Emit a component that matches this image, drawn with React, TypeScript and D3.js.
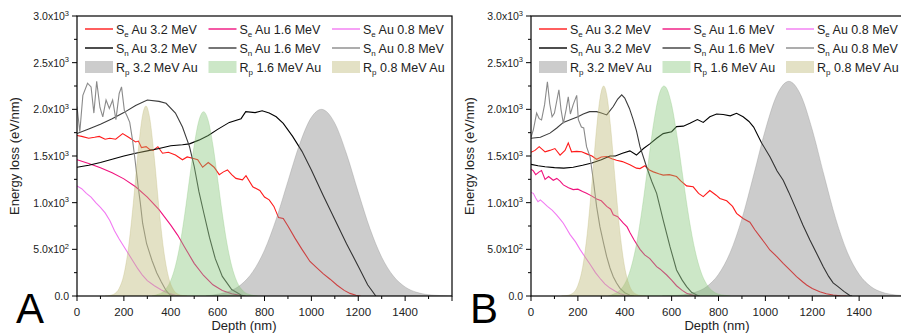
import * as d3 from "d3";

type Pt = [number, number];

// depth (nm) vs energy loss (eV/nm)

// panel A
const A_SE32: Pt[] = [[0,1720],[20,1710],[50,1690],[75,1700],[95,1710],[120,1680],[140,1690],[165,1680],[195,1740],[220,1700],[250,1650],[262,1660],[275,1590],[295,1600],[310,1570],[325,1560],[345,1600],[365,1530],[390,1540],[420,1510],[450,1460],[470,1490],[493,1475],[515,1460],[536,1380],[560,1430],[585,1380],[607,1300],[625,1330],[642,1350],[660,1300],[678,1260],[706,1245],[721,1290],[750,1170],[780,1130],[800,1060],[820,1030],[840,960],[860,840],[880,830],[900,750],[930,620],[960,500],[994,370],[1020,310],[1050,240],[1080,180],[1110,115],[1140,60],[1165,28],[1190,8],[1210,0]];
const A_SE16: Pt[] = [[0,1460],[50,1420],[100,1375],[150,1320],[200,1255],[250,1170],[300,1060],[350,925],[400,760],[430,650],[460,520],[500,350],[540,220],[580,120],[620,60],[660,25],[700,5],[720,0]];
const A_SE08: Pt[] = [[0,1180],[20,1150],[40,1100],[60,1060],[80,1000],[100,950],[120,890],[140,810],[160,700],[180,610],[200,530],[220,450],[240,370],[260,290],[280,220],[300,165],[330,110],[360,65],[390,30],[420,8],[440,0]];
const A_SN32: Pt[] = [[0,1380],[50,1400],[100,1430],[150,1465],[200,1500],[250,1530],[300,1555],[350,1580],[400,1610],[450,1620],[480,1630],[520,1670],[560,1720],[600,1785],[650,1860],[700,1900],[720,1975],[760,1965],[790,1985],[820,1960],[850,1920],[880,1850],[920,1710],[960,1550],[1000,1350],[1050,1080],[1100,820],[1150,560],[1200,320],[1240,120],[1275,0]];
const A_SN16: Pt[] = [[0,1740],[50,1790],[100,1840],[150,1900],[200,1965],[250,2040],[300,2100],[350,2085],[380,2065],[420,1960],[450,1810],[480,1600],[500,1390],[520,1120],[540,900],[565,630],[590,400],[620,210],[660,70],[700,10],[715,0]];
const A_SN08: Pt[] = [[0,2030],[12,1760],[25,2150],[45,2280],[60,2240],[72,1960],[84,2300],[98,2020],[110,1920],[124,2100],[138,2010],[152,2100],[166,1890],[180,2170],[190,2240],[202,1990],[215,1920],[225,1860],[237,1670],[248,1450],[255,1300],[262,1150],[270,1000],[280,780],[297,560],[320,380],[340,250],[360,150],[380,60],[395,15],[410,0]];
const A_RP32: Pt[] = [[550,0],[600,19],[650,51],[700,122],[750,260],[800,491],[850,825],[900,1230],[950,1628],[1000,1914],[1043,2000],[1100,1851],[1150,1523],[1200,1113],[1250,722],[1300,416],[1350,213],[1400,97],[1450,39],[1500,14],[1550,5],[1600,0]];
const A_RP16: Pt[] = [[320,0],[340,13],[370,52],[400,167],[420,322],[440,560],[460,882],[480,1255],[500,1615],[520,1878],[540,1975],[560,1878],[580,1615],[600,1255],[620,882],[640,560],[660,322],[680,167],[710,52],[740,13],[770,0]];
const A_RP08: Pt[] = [[120,0],[140,6],[160,24],[180,82],[200,230],[220,527],[240,991],[260,1531],[280,1940],[294,2036],[310,1911],[330,1478],[350,939],[370,489],[390,209],[410,73],[430,21],[450,5],[470,0]];

// panel B
const B_SE32: Pt[] = [[0,1540],[17,1560],[35,1600],[60,1545],[80,1560],[102,1580],[124,1510],[145,1560],[159,1640],[173,1545],[195,1550],[216,1545],[240,1520],[260,1500],[280,1465],[300,1490],[323,1495],[345,1470],[365,1455],[390,1440],[422,1405],[450,1370],[465,1365],[486,1395],[505,1350],[522,1330],[545,1310],[564,1295],[590,1300],[621,1280],[640,1230],[664,1180],[692,1170],[715,1100],[735,1065],[763,1130],[790,1080],[806,1045],[835,1020],[860,960],[877,886],[905,830],[934,790],[955,710],[977,636],[1000,560],[1019,493],[1050,420],[1076,350],[1100,290],[1133,207],[1160,150],[1176,118],[1200,80],[1232,46],[1260,25],[1289,10],[1320,3],[1346,0]];
const B_SE16: Pt[] = [[0,1360],[10,1340],[20,1300],[35,1330],[45,1345],[60,1250],[75,1280],[95,1240],[110,1260],[124,1230],[138,1190],[160,1160],[180,1140],[200,1145],[220,1120],[237,1100],[260,1070],[280,1040],[300,1020],[323,960],[340,930],[351,870],[370,850],[394,780],[410,740],[422,680],[440,600],[465,500],[485,440],[507,400],[536,314],[550,290],[579,225],[600,170],[621,110],[645,60],[664,30],[685,12],[707,0]];
const B_SE08: Pt[] = [[0,1110],[10,1100],[20,1050],[30,1010],[40,1030],[53,1000],[70,960],[90,920],[109,870],[125,820],[138,780],[152,720],[166,660],[190,580],[209,500],[230,420],[252,340],[275,250],[294,190],[315,130],[337,85],[360,50],[380,25],[400,10],[422,0]];
const B_SN32: Pt[] = [[0,1410],[30,1395],[60,1385],[100,1375],[140,1370],[180,1380],[220,1400],[260,1425],[300,1460],[337,1500],[360,1500],[390,1530],[422,1555],[450,1510],[480,1580],[507,1630],[536,1690],[564,1740],[600,1760],[621,1815],[650,1820],[678,1850],[710,1890],[735,1860],[763,1920],[792,1950],[820,1945],[850,1930],[877,1957],[905,1920],[930,1870],[950,1810],[984,1640],[1020,1490],[1050,1340],[1076,1240],[1100,1110],[1133,920],[1160,760],[1190,600],[1220,450],[1247,314],[1270,210],[1289,140],[1310,100],[1335,50],[1360,5],[1370,0]];
const B_SN16: Pt[] = [[0,1690],[40,1700],[81,1745],[110,1800],[138,1860],[170,1890],[200,1920],[223,1950],[250,1975],[280,1975],[300,1960],[323,1940],[351,2030],[370,2110],[387,2155],[400,2120],[420,2010],[436,1890],[450,1770],[465,1600],[493,1385],[515,1230],[536,1100],[564,814],[593,529],[621,279],[645,170],[664,100],[685,40],[707,10],[720,0]];
const B_SN08: Pt[] = [[0,1700],[10,1780],[24,1960],[35,1900],[45,1886],[58,2050],[70,2295],[80,2060],[90,1920],[100,1960],[119,2210],[128,2000],[138,1850],[150,2000],[159,2135],[168,1950],[180,2050],[195,2150],[202,1890],[215,1810],[225,1800],[237,1600],[252,1490],[266,1240],[280,957],[294,743],[310,560],[323,421],[337,300],[351,207],[365,140],[380,82],[400,35],[422,8],[440,0]];
const B_RP32: Pt[] = [[560,0],[600,4],[650,13],[700,39],[750,101],[800,232],[850,467],[900,829],[950,1296],[1000,1782],[1050,2158],[1100,2300],[1150,2158],[1200,1782],[1250,1296],[1300,829],[1350,467],[1400,232],[1450,101],[1500,39],[1550,13],[1600,4]];
const B_RP16: Pt[] = [[330,0],[350,18],[375,52],[400,131],[425,287],[450,557],[475,949],[500,1423],[525,1879],[550,2185],[567,2250],[575,2238],[600,2048],[625,1682],[650,1240],[675,820],[700,487],[725,259],[750,124],[775,53],[800,20],[825,8],[850,0]];
const B_RP08: Pt[] = [[130,0],[150,4],[175,25],[200,113],[220,305],[240,671],[260,1214],[280,1801],[295,2128],[310,2250],[325,2128],[340,1801],[360,1214],[380,671],[400,305],[420,113],[445,25],[470,4],[490,0]];

const X_TICKS = [0, 200, 400, 600, 800, 1000, 1200, 1400];
const Y_TICKS = [0, 500, 1000, 1500, 2000, 2500, 3000];
const Y_TICK_BASE = ["0.0", "5.0x10", "1.0x10", "1.5x10", "2.0x10", "2.5x10", "3.0x10"];
const Y_TICK_EXP = ["", "2", "3", "3", "3", "3", "3"];

const LINE_NAMES = ["e|Au 3.2 MeV", "e|Au 1.6 MeV", "e|Au 0.8 MeV", "n|Au 3.2 MeV", "n|Au 1.6 MeV", "n|Au 0.8 MeV"];
const LINE_COLORS = ["#ff1a1a", "#f0127e", "#f27af2", "#000000", "#3c3c3c", "#8a8a8a"];
const AREA_NAMES = ["3.2 MeV Au", "1.6 MeV Au", "0.8 MeV Au"];
const AREA_COLORS = ["#808080", "#7fc272", "#bab46e"];

const FONT = "'Liberation Sans', Arial, Helvetica, sans-serif";

type PanelProps = {
  left: number;
  letter: string;
  letterX: number;
  titleX: number;
  depthX: number;
  lines: Pt[][];
  areas: Pt[][];
};

function Panel({ left, letter, letterX, titleX, depthX, lines, areas }: PanelProps) {
  const top = 16, bottom = 296, width = 375;
  const x = d3.scaleLinear().domain([0, 1600]).range([left, left + width]);
  const y = d3.scaleLinear().domain([0, 3000]).range([bottom, top]);
  const line = d3.line<Pt>().x((d) => x(d[0])).y((d) => y(d[1]));
  const area = d3.area<Pt>().x((d) => x(d[0])).y0(y(0)).y1((d) => y(d[1])).curve(d3.curveMonotoneX);
  const clipId = "clip-" + letter;
  const minorX = d3.range(0, 1601, 100);
  const minorY = d3.range(0, 3001, 250);
  const legendX = (i: number) => left + 8 + i * 123.5;
  const legendY = [29, 48, 67];

  return (
    <g fontFamily={FONT}>
      <defs>
        <clipPath id={clipId}>
          <rect x={left} y={top} width={width} height={bottom - top} />
        </clipPath>
      </defs>
      <g clipPath={`url(#${clipId})`}>
        {lines.map((d, i) => (
          <path key={i} d={line(d) ?? ""} fill="none" stroke={LINE_COLORS[i]} strokeWidth={1.1} />
        ))}
        {areas.map((d, i) => (
          <path key={i} d={area(d) ?? ""} fill={AREA_COLORS[i]} fillOpacity={0.4} stroke={AREA_COLORS[i]} strokeOpacity={0.35} strokeWidth={0.8} />
        ))}
      </g>

      {/* frame */}
      <rect x={left} y={top} width={width} height={bottom - top} fill="none" stroke="#000" strokeWidth={1.2} />

      {/* x ticks */}
      {minorX.map((v) => (
        <line key={v} x1={x(v)} x2={x(v)} y1={bottom} y2={bottom + (v % 200 === 0 ? 5 : 3)} stroke="#000" strokeWidth={1} />
      ))}
      {X_TICKS.map((v) => (
        <text key={v} x={x(v)} y={316} fontSize={11.5} textAnchor="middle" fill="#222">{v}</text>
      ))}

      {/* y ticks */}
      {minorY.map((v) => (
        <line key={v} x1={left} x2={left - (v % 500 === 0 ? 5 : 3)} y1={y(v)} y2={y(v)} stroke="#000" strokeWidth={1} />
      ))}
      {Y_TICKS.map((v, i) => (
        <text key={v} x={left - 8} y={y(v) + 4} fontSize={10.5} textAnchor="end" fill="#222">
          {Y_TICK_BASE[i]}
          {Y_TICK_EXP[i] && <tspan dy={-4.5} fontSize={7.5}>{Y_TICK_EXP[i]}</tspan>}
        </text>
      ))}

      <text transform={`translate(${titleX},156) rotate(-90)`} fontSize={13} textAnchor="middle" dominantBaseline="middle" fill="#222">
        Energy loss (eV/nm)
      </text>
      <text x={depthX} y={330} fontSize={13} textAnchor="middle" fill="#222">Depth (nm)</text>
      <text x={letterX} y={323} fontSize={42} fill="#000">{letter}</text>

      {/* legend */}
      {LINE_NAMES.map((name, i) => {
        const col = i % 3, row = Math.floor(i / 3);
        const [sub, rest] = name.split("|");
        const lx = legendX(col), ly = legendY[row];
        return (
          <g key={name + i}>
            <line x1={lx} x2={lx + 28} y1={ly} y2={ly} stroke={LINE_COLORS[i]} strokeWidth={1.4} />
            <text x={lx + 31} y={ly + 4.5} fontSize={12.5} fill="#222" style={{ whiteSpace: "pre" }}>
              S<tspan dy={3} fontSize={8}>{sub}</tspan><tspan dy={-3}>{" " + rest}</tspan>
            </text>
          </g>
        );
      })}
      {AREA_NAMES.map((name, i) => {
        const lx = legendX(i), ly = legendY[2];
        return (
          <g key={name}>
            <rect x={lx} y={ly - 6} width={28} height={12} fill={AREA_COLORS[i]} fillOpacity={0.4} />
            <text x={lx + 31} y={ly + 4.5} fontSize={12.5} fill="#222" style={{ whiteSpace: "pre" }}>
              R<tspan dy={3} fontSize={8}>p</tspan><tspan dy={-3}>{" " + name}</tspan>
            </text>
          </g>
        );
      })}
    </g>
  );
}

export default function App() {
  return (
    <svg width={901} height={336} viewBox="0 0 901 336" style={{ position: "absolute", left: 0, top: 0, background: "#fff" }}>
      <rect width={901} height={336} fill="#fff" />
      <Panel
        left={77}
        letter="A"
        letterX={16}
        titleX={16}
        depthX={244}
        lines={[A_SE32, A_SE16, A_SE08, A_SN32, A_SN16, A_SN08]}
        areas={[A_RP32, A_RP16, A_RP08]}
      />
      <Panel
        left={531}
        letter="B"
        letterX={470}
        titleX={471}
        depthX={717}
        lines={[B_SE32, B_SE16, B_SE08, B_SN32, B_SN16, B_SN08]}
        areas={[B_RP32, B_RP16, B_RP08]}
      />
    </svg>
  );
}
